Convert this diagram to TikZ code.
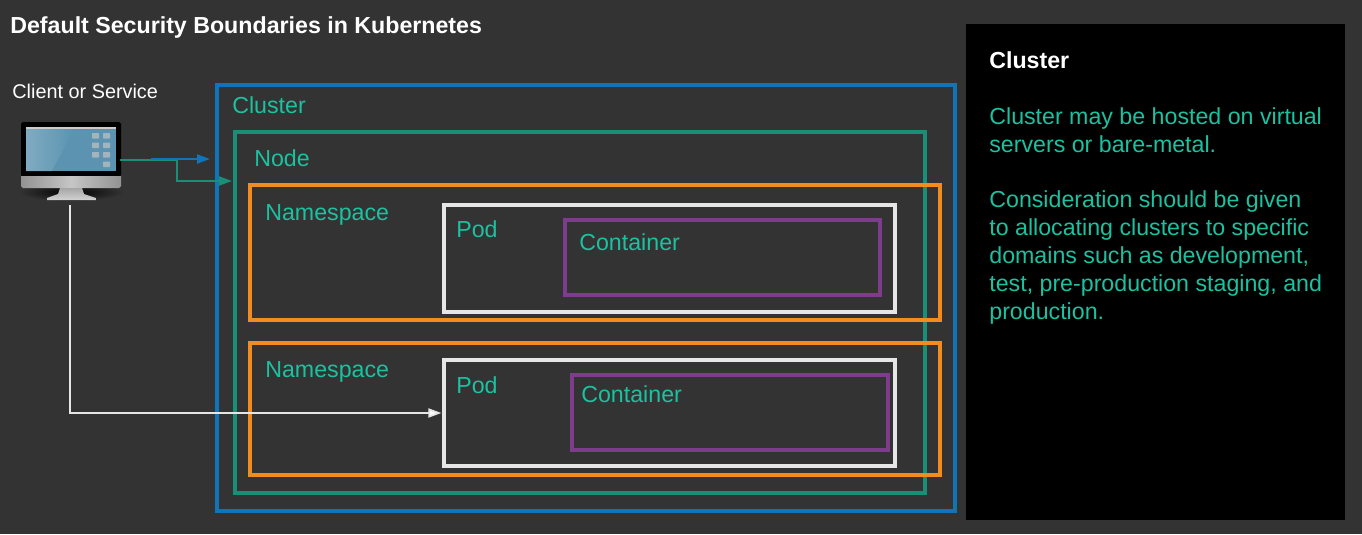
\documentclass[tikz,border=0pt]{standalone}
\usepackage{fontspec}
\setmainfont{Liberation Sans}
\usetikzlibrary{positioning,arrows.meta}
\definecolor{bgdark}{HTML}{333333}
\definecolor{labelteal}{HTML}{1BC2A0}
\definecolor{clusterblue}{HTML}{0F75B8}
\definecolor{nodeteal}{HTML}{1A8F78}
\definecolor{nsorange}{HTML}{F28C1E}
\definecolor{podwhite}{HTML}{E6E6E6}
\definecolor{boxpurple}{HTML}{7D3C8C}
\definecolor{screenblue}{HTML}{5B93B0}
\definecolor{screenpale}{HTML}{7FABC2}
\definecolor{iconpale}{HTML}{A3B4BC}
\begin{document}
\begin{tikzpicture}[
  x=0.02cm, y=-0.02cm,
  frame/.style={draw, line width=1.8pt, outer sep=0pt, inner sep=0pt},
  tag/.style={anchor=west, inner sep=0pt, text=labelteal, font=\fontsize{13.2}{15.9}\selectfont},
  arrow/.style={-{Triangle[length=2.6mm,width=1.8mm]}, line width=1pt},
  icon/.style={fill=iconpale, rounded corners=0.3pt}
]
\useasboundingbox (0,0) rectangle (1362,534);
\fill[bgdark] (0,0) rectangle (1362,534);

\node[anchor=west, inner sep=0pt, text=white, font=\fontsize{13.2}{15.9}\selectfont\bfseries] (title) at (10,28) {Default Security Boundaries in Kubernetes};
\node[anchor=west, inner sep=0pt, text=white, font=\fontsize{11.3}{13.5}\selectfont] (client) at (12,91.5) {Client or Service};

% nested boundaries
\node[frame, draw=nodeteal, minimum width=13.8cm, minimum height=7.22cm] (node) at (580,312.5) {};
\node[frame, draw=clusterblue, minimum width=14.76cm, minimum height=8.52cm] (cluster) at (586,298) {};
\node[frame, draw=nsorange, minimum width=13.8cm, minimum height=2.7cm] (ns1) at (595,252.5) {};
\node[frame, draw=podwhite, minimum width=9.02cm, minimum height=2.14cm] (pod1) at (669.5,258.5) {};
\node[frame, draw=boxpurple, minimum width=6.3cm, minimum height=1.5cm] (box1) at (722.5,257.5) {};
\node[frame, draw=nsorange, minimum width=13.8cm, minimum height=2.64cm] (ns2) at (595,409) {};
\node[frame, draw=podwhite, minimum width=9.02cm, minimum height=2.12cm] (pod2) at (669.5,413) {};
\node[frame, draw=boxpurple, minimum width=6.32cm, minimum height=1.5cm] (box2) at (730,412.5) {};

\node[tag] (clustertag) at (232,105) {Cluster};
\node[tag] (nodetag) at (254,158) {Node};
\node[tag] (ns1tag) at (265,215) {Namespace};
\node[tag] (pod1tag) at (456,229) {Pod};
\node[tag] (box1tag) at (579,242) {Container};
\node[tag] (ns2tag) at (265,372) {Namespace};
\node[tag] (pod2tag) at (456,385) {Pod};
\node[tag] (box2tag) at (581,394) {Container};

% side panel
\node[fill=black, minimum width=7.58cm, minimum height=9.92cm, outer sep=0pt, inner sep=0pt] (panel) at (1155.5,272) {};
\node[tag, text=white, font=\fontsize{13.2}{15.9}\selectfont\bfseries] (paneltitle) at (989,60) {Cluster};
\node[tag, anchor=north west, align=left] (paneltext) at (989,107) {Cluster may be hosted on virtual\\ servers or bare-metal.\\[15.9pt] Consideration should be given\\ to allocating clusters to specific\\ domains such as development,\\ test, pre-production staging, and\\ production.};

% monitor
\shade[inner color=black, outer color=bgdark] (71,192) ellipse (52 and 9);
\fill[black, rounded corners=1pt] (21,122) rectangle (121,177);
\shade[left color=gray!85!white, right color=gray!85!white, middle color=gray!45!white] (21,176) -- (121,176) -- (121,186) -- (119,188) -- (23,188) -- (21,186) -- cycle;
\shade[top color=gray!70!white, bottom color=gray!35!white] (60,188) -- (82,188) -- (84,194) -- (96,198) -- (96,200) -- (47,200) -- (47,198) -- (58,194) -- cycle;
\fill[screenblue] (26,127) rectangle (116,171);
\shade[left color=screenpale, right color=screenblue] (26,127) -- (75,127) -- (52,171) -- (26,171) -- cycle;
\fill[gray!40!white] (26,126.5) rectangle (116,129);
\foreach \row in {133,142.5,152} {
  \fill[icon] (92,\row) rectangle (99,\row+5.5);
  \fill[icon] (103,\row) rectangle (110,\row+5.5);
}
\fill[icon] (103,161.5) rectangle (110,167);

\coordinate (monitorright) at (120,160);
\coordinate (monitorbase) at (70,205);
\coordinate (bluestart) at (151,159);
\coordinate (blueend) at (210,159);
\coordinate (tealbend) at (177,160);
\coordinate (tealend) at (232,181);

\draw[nodeteal, line width=1.2pt] (monitorright) -- (tealbend);
\draw[arrow, nodeteal] (tealbend) |- (tealend);
\draw[arrow, clusterblue, line width=1.2pt] (bluestart) -- (blueend);
\draw[arrow, podwhite, shorten >=1.5pt, -{Triangle[length=2.6mm,width=1.8mm,fill=white]}] (monitorbase) |- (pod2.west);
\end{tikzpicture}
\end{document}
